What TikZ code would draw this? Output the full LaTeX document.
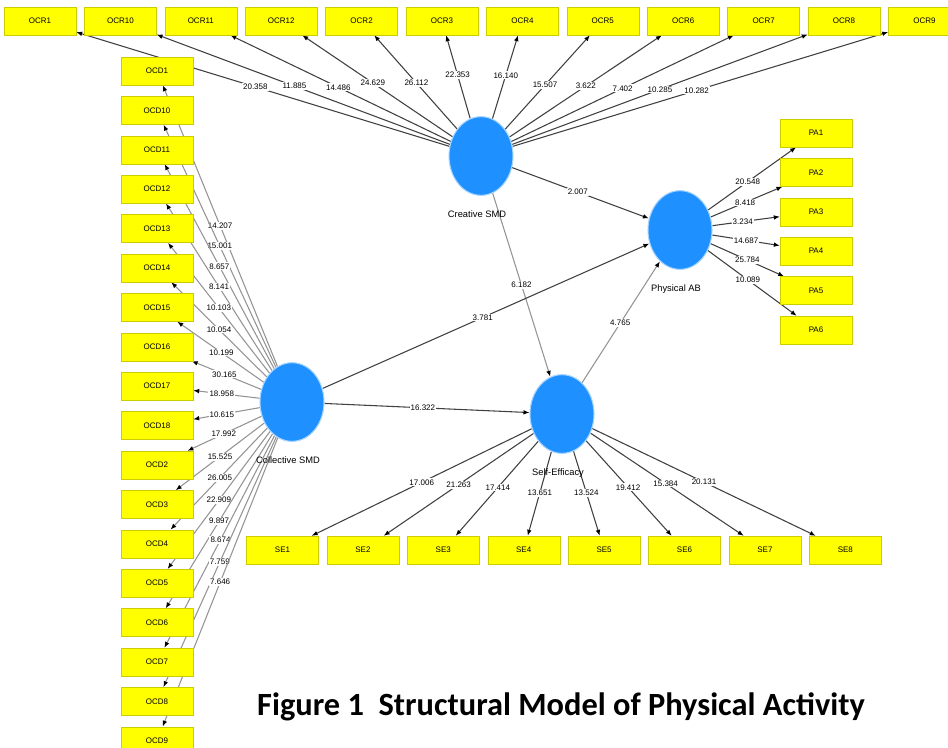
\documentclass[tikz,border=0pt]{standalone}
\usepackage{fontspec}
\setmainfont{Liberation Sans}
\newfontfamily\capfont{Carlito}
\usetikzlibrary{positioning,shapes.geometric,arrows.meta}
\pgfdeclarelayer{bg}
\pgfsetlayers{bg,main}
\definecolor{lvblue}{RGB}{30,144,255}
\definecolor{mvyellow}{RGB}{255,255,0}

\tikzset{
  mv/.style={draw=mvyellow!80!black, line width=0.3pt, fill=mvyellow, minimum width=54pt, minimum height=21pt, inner sep=0pt, font=\fontsize{6}{7}\selectfont},
  lv/.style={ellipse, fill=lvblue, draw=lvblue!40!white, line width=0.8pt, minimum width=48pt, minimum height=59pt, inner sep=0pt,
    label={[font=\fontsize{7}{8}\selectfont, inner sep=0pt, label distance=11pt, xshift=-3pt]below:#1}},
  lnk/.style={draw=black!75, line width=0.8pt, -{Latex[length=4.5pt,width=3.5pt,color=black]}},
  lnkg/.style={lnk, draw=black!42},
  coef/.style={fill=white, inner sep=0.8pt, font=\fontsize{6}{7}\selectfont},
}

\begin{document}
\begin{tikzpicture}[x=0.75pt, y=-0.75pt, node distance=8.25pt and 6pt]
  \useasboundingbox (0,0) rectangle (948,747);

  % latent variables
  \node[lv=Creative SMD] (cre) at (481,156) {};
  \node[lv=Physical AB] (phy) at (680,230) {};
  \node[lv=Collective SMD] (col) at (292,402) {};
  \node[lv=Self-Efficacy] (slf) at (562,414) {};

  % creative indicators
  \node[mv] (ocr1) at (40,21) {OCR1};
  \node[mv,right=of ocr1] (ocr10) {OCR10};
  \node[mv,right=of ocr10] (ocr11) {OCR11};
  \node[mv,right=of ocr11] (ocr12) {OCR12};
  \node[mv,right=of ocr12] (ocr2) {OCR2};
  \node[mv,right=of ocr2] (ocr3) {OCR3};
  \node[mv,right=of ocr3] (ocr4) {OCR4};
  \node[mv,right=of ocr4] (ocr5) {OCR5};
  \node[mv,right=of ocr5] (ocr6) {OCR6};
  \node[mv,right=of ocr6] (ocr7) {OCR7};
  \node[mv,right=of ocr7] (ocr8) {OCR8};
  \node[mv,right=of ocr8] (ocr9) {OCR9};

  % collective indicators
  \node[mv] (ocd1) at (157,71) {OCD1};
  \node[mv,below=of ocd1] (ocd10) {OCD10};
  \node[mv,below=of ocd10] (ocd11) {OCD11};
  \node[mv,below=of ocd11] (ocd12) {OCD12};
  \node[mv,below=of ocd12] (ocd13) {OCD13};
  \node[mv,below=of ocd13] (ocd14) {OCD14};
  \node[mv,below=of ocd14] (ocd15) {OCD15};
  \node[mv,below=of ocd15] (ocd16) {OCD16};
  \node[mv,below=of ocd16] (ocd17) {OCD17};
  \node[mv,below=of ocd17] (ocd18) {OCD18};
  \node[mv,below=of ocd18] (ocd2) {OCD2};
  \node[mv,below=of ocd2] (ocd3) {OCD3};
  \node[mv,below=of ocd3] (ocd4) {OCD4};
  \node[mv,below=of ocd4] (ocd5) {OCD5};
  \node[mv,below=of ocd5] (ocd6) {OCD6};
  \node[mv,below=of ocd6] (ocd7) {OCD7};
  \node[mv,below=of ocd7] (ocd8) {OCD8};
  \node[mv,below=of ocd8] (ocd9) {OCD9};

  % physical activity indicators
  \node[mv] (pa1) at (816,133) {PA1};
  \node[mv,below=of pa1] (pa2) {PA2};
  \node[mv,below=of pa2] (pa3) {PA3};
  \node[mv,below=of pa3] (pa4) {PA4};
  \node[mv,below=of pa4] (pa5) {PA5};
  \node[mv,below=of pa5] (pa6) {PA6};

  % self-efficacy indicators
  \node[mv] (se1) at (282.5,550) {SE1};
  \node[mv,right=of se1] (se2) {SE2};
  \node[mv,right=of se2] (se3) {SE3};
  \node[mv,right=of se3] (se4) {SE4};
  \node[mv,right=of se4] (se5) {SE5};
  \node[mv,right=of se5] (se6) {SE6};
  \node[mv,right=of se6] (se7) {SE7};
  \node[mv,right=of se7] (se8) {SE8};

  \node[font=\capfont\bfseries\fontsize{24.3}{28}\selectfont] (caption) at (561,707) {Figure 1~~Structural Model of Physical Activity};

  \begin{pgfonlayer}{bg}
    % structural paths
    \draw[lnk] (cre) -- node[coef,pos=0.48] {2.007} (phy);
    \draw[lnkg] (cre) -- node[coef] {6.182} (slf);
    \draw[lnk] (col) -- node[coef,pos=0.49] {3.781} (phy);
    \draw[lnk] (col) -- node[coef,pos=0.48] {16.322} (slf);
    \draw[lnkg] (slf) -- node[coef,pos=0.49] {4.765} (phy);

    % outer loadings
    \draw[lnk] (cre) -- node[coef,pos=0.52] {20.358} (ocr1);
    \draw[lnk] (cre) -- node[coef,pos=0.53] {11.885} (ocr10);
    \draw[lnk] (cre) -- node[coef,pos=0.51] {14.486} (ocr11);
    \draw[lnk] (cre) -- node[coef,pos=0.53] {24.629} (ocr12);
    \draw[lnk] (cre) -- node[coef,pos=0.49] {26.112} (ocr2);
    \draw[lnk] (cre) -- node[coef,pos=0.52] {22.353} (ocr3);
    \draw[lnk] (cre) -- node[coef,pos=0.52] {16.140} (ocr4);
    \draw[lnk] (cre) -- node[coef,pos=0.47] {15.507} (ocr5);
    \draw[lnk] (cre) -- node[coef] {3.622} (ocr6);
    \draw[lnk] (cre) -- node[coef] {7.402} (ocr7);
    \draw[lnk] (cre) -- node[coef] {10.285} (ocr8);
    \draw[lnk] (cre) -- node[coef,pos=0.49] {10.282} (ocr9);

    \draw[lnkg] (col) -- node[coef] {14.207} (ocd1);
    \draw[lnkg] (col) -- node[coef] {15.001} (ocd10);
    \draw[lnkg] (col) -- node[coef] {8.657} (ocd11);
    \draw[lnkg] (col) -- node[coef] {8.141} (ocd12);
    \draw[lnkg] (col) -- node[coef] {10.103} (ocd13);
    \draw[lnkg] (col) -- node[coef] {10.054} (ocd14);
    \draw[lnkg] (col) -- node[coef,pos=0.49] {10.199} (ocd15);
    \draw[lnkg] (col) -- node[coef,pos=0.53] {30.165} (ocd16);
    \draw[lnkg] (col) -- node[coef,pos=0.57] {18.958} (ocd17);
    \draw[lnkg] (col) -- node[coef,pos=0.57] {10.615} (ocd18);
    \draw[lnkg] (col) -- node[coef,pos=0.51] {17.992} (ocd2);
    \draw[lnkg] (col) -- node[coef] {15.525} (ocd3);
    \draw[lnkg] (col) -- node[coef,pos=0.49] {26.005} (ocd4);
    \draw[lnkg] (col) -- node[coef] {22.909} (ocd5);
    \draw[lnkg] (col) -- node[coef] {9.897} (ocd6);
    \draw[lnkg] (col) -- node[coef,pos=0.49] {8.674} (ocd7);
    \draw[lnkg] (col) -- node[coef] {7.759} (ocd8);
    \draw[lnkg] (col) -- node[coef] {7.646} (ocd9);

    \draw[lnk] (phy) -- node[coef,pos=0.45] {20.548} (pa1);
    \draw[lnk] (phy) -- node[coef,pos=0.48] {8.418} (pa2);
    \draw[lnk] (phy) -- node[coef,pos=0.45] {3.234} (pa3);
    \draw[lnk] (phy) -- node[coef] {14.687} (pa4);
    \draw[lnk] (phy) -- node[coef] {25.784} (pa5);
    \draw[lnk] (phy) -- node[coef,pos=0.45] {10.089} (pa6);

    \draw[lnk] (slf) -- node[coef] {17.006} (se1);
    \draw[lnk] (slf) -- node[coef] {21.263} (se2);
    \draw[lnk] (slf) -- node[coef,pos=0.49] {17.414} (se3);
    \draw[lnk] (slf) -- node[coef,pos=0.49] {13.651} (se4);
    \draw[lnk] (slf) -- node[coef,pos=0.49] {13.524} (se5);
    \draw[lnk] (slf) -- node[coef,pos=0.49] {19.412} (se6);
    \draw[lnk] (slf) -- node[coef,pos=0.49] {15.384} (se7);
    \draw[lnk] (slf) -- node[coef] {20.131} (se8);
  \end{pgfonlayer}
\end{tikzpicture}
\end{document}
